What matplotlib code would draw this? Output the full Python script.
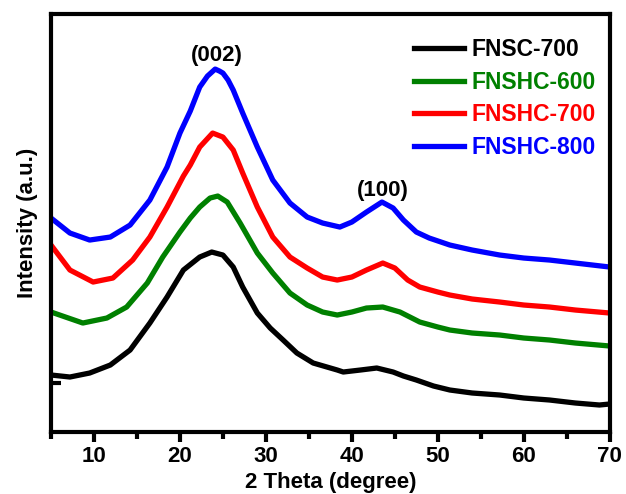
import matplotlib.pyplot as plt

plt.rcParams['font.family'] = ['Liberation Sans', 'DejaVu Sans']
plt.rcParams['font.weight'] = 'bold'

# XRD patterns, curves stacked with an offset (arbitrary units)
x_fnsc700 = [5, 7.2, 9.5, 11.9, 14.2, 16.5, 18.5, 20.4, 22.3, 23.7, 25, 26.2, 27.3, 29,
             30.5, 32, 33.6, 35.5, 38.3, 39, 41, 42.9, 44.8, 46, 47.5, 49.5, 51.4, 54,
             57.2, 60, 63, 66, 68.8, 70]
y_fnsc700 = [57, 55, 59, 67, 82, 109, 135, 162, 175, 180, 177, 165, 145, 119,
             104, 92, 79, 69, 62, 60, 62, 64, 60, 56, 52, 46, 42, 39,
             37, 34, 32, 29, 27, 28]

x_fnshc600 = [5, 8.7, 11.5, 13.8, 16.2, 18, 20, 21.2, 22.3, 23.5, 24.4, 25.5, 27, 29,
              30.8, 32.8, 34.8, 36.6, 38.3, 40, 41.7, 43.6, 45.6, 47.9, 50, 51.4, 54,
              57.2, 60, 63, 66, 70]
y_fnshc600 = [120, 109, 114, 125, 149, 175, 200, 214, 225, 234, 236, 230, 209, 179,
              159, 139, 127, 120, 117, 120, 124, 125, 120, 110, 105, 102, 99,
              97, 94, 92, 89, 86]

x_fnshc700 = [5, 7.2, 9.9, 12.2, 14.5, 16.5, 18.5, 20.4, 21.2, 22.3, 23.8, 25, 26.2, 27.3,
              29, 30.8, 32.8, 34.8, 36.6, 38.3, 40, 41.7, 43.6, 45, 46.5, 47.9, 50, 51.4,
              54, 57.2, 60, 63, 66, 70]
y_fnshc700 = [187, 162, 150, 154, 172, 195, 225, 256, 267, 285, 299, 295, 282, 259,
              225, 195, 175, 164, 155, 152, 155, 162, 169, 164, 152, 145, 140, 137,
              133, 130, 127, 125, 122, 119]

x_fnshc800 = [5, 7.2, 9.5, 11.9, 14.2, 16.5, 18.5, 20, 21.2, 22.3, 23.2, 24.1, 24.6, 25,
              25.6, 26.2, 27.3, 29, 30.8, 32.8, 34.8, 36.6, 38.6, 40, 41.7, 43.5, 44.8, 46,
              47.5, 49, 51.4, 54, 57.2, 60, 63, 66, 70]
y_fnshc800 = [214, 199, 192, 195, 207, 232, 265, 299, 321, 345, 356, 363, 361, 359,
              352, 342, 319, 285, 252, 229, 215, 209, 205, 210, 220, 230, 224, 212,
              200, 194, 187, 182, 177, 174, 172, 169, 165]

fig = plt.figure(figsize=(6.26, 4.94), dpi=100)
ax = fig.add_axes([0.0815, 0.1255, 0.8925, 0.846])

lw = 3.8
ax.plot(x_fnsc700, y_fnsc700, color='black', lw=lw, label='FNSC-700', solid_joinstyle='round')
ax.plot(x_fnshc600, y_fnshc600, color='#008000', lw=lw, label='FNSHC-600', solid_joinstyle='round')
ax.plot(x_fnshc700, y_fnshc700, color='#ff0000', lw=lw, label='FNSHC-700', solid_joinstyle='round')
ax.plot(x_fnshc800, y_fnshc800, color='#0000ff', lw=lw, label='FNSHC-800', solid_joinstyle='round')

ax.text(24.3, 366, '(002)', ha='center', va='bottom', fontsize=16, fontweight='bold')
ax.text(43.6, 231, '(100)', ha='center', va='bottom', fontsize=16, fontweight='bold')

ax.set_xlim(5, 70)
ax.set_ylim(0, 418)
ax.set_xticks(range(10, 71, 10))
ax.set_xticks(range(5, 71, 10), minor=True)
ax.set_yticks([49])
ax.set_yticklabels([])
ax.tick_params(axis='x', which='major', direction='out', length=7, width=3, labelsize=16, pad=3)
ax.tick_params(axis='x', which='minor', direction='out', length=5, width=3)
ax.tick_params(axis='y', direction='in', length=7, width=3)
for s in ax.spines.values():
    s.set_linewidth(3)

ax.set_xlabel('2 Theta (degree)', fontsize=16, fontweight='bold', labelpad=4)
ax.set_ylabel('Intensity (a.u.)', fontsize=16, fontweight='bold', labelpad=6)

leg = ax.legend(loc='upper right', bbox_to_anchor=(1.012, 0.992), frameon=False,
                labelcolor='linecolor', handlelength=2.15,
                handletextpad=0.35, labelspacing=0.42,
                prop={'weight': 'bold', 'size': 16.5})

fig.savefig('out.png', dpi=100)
